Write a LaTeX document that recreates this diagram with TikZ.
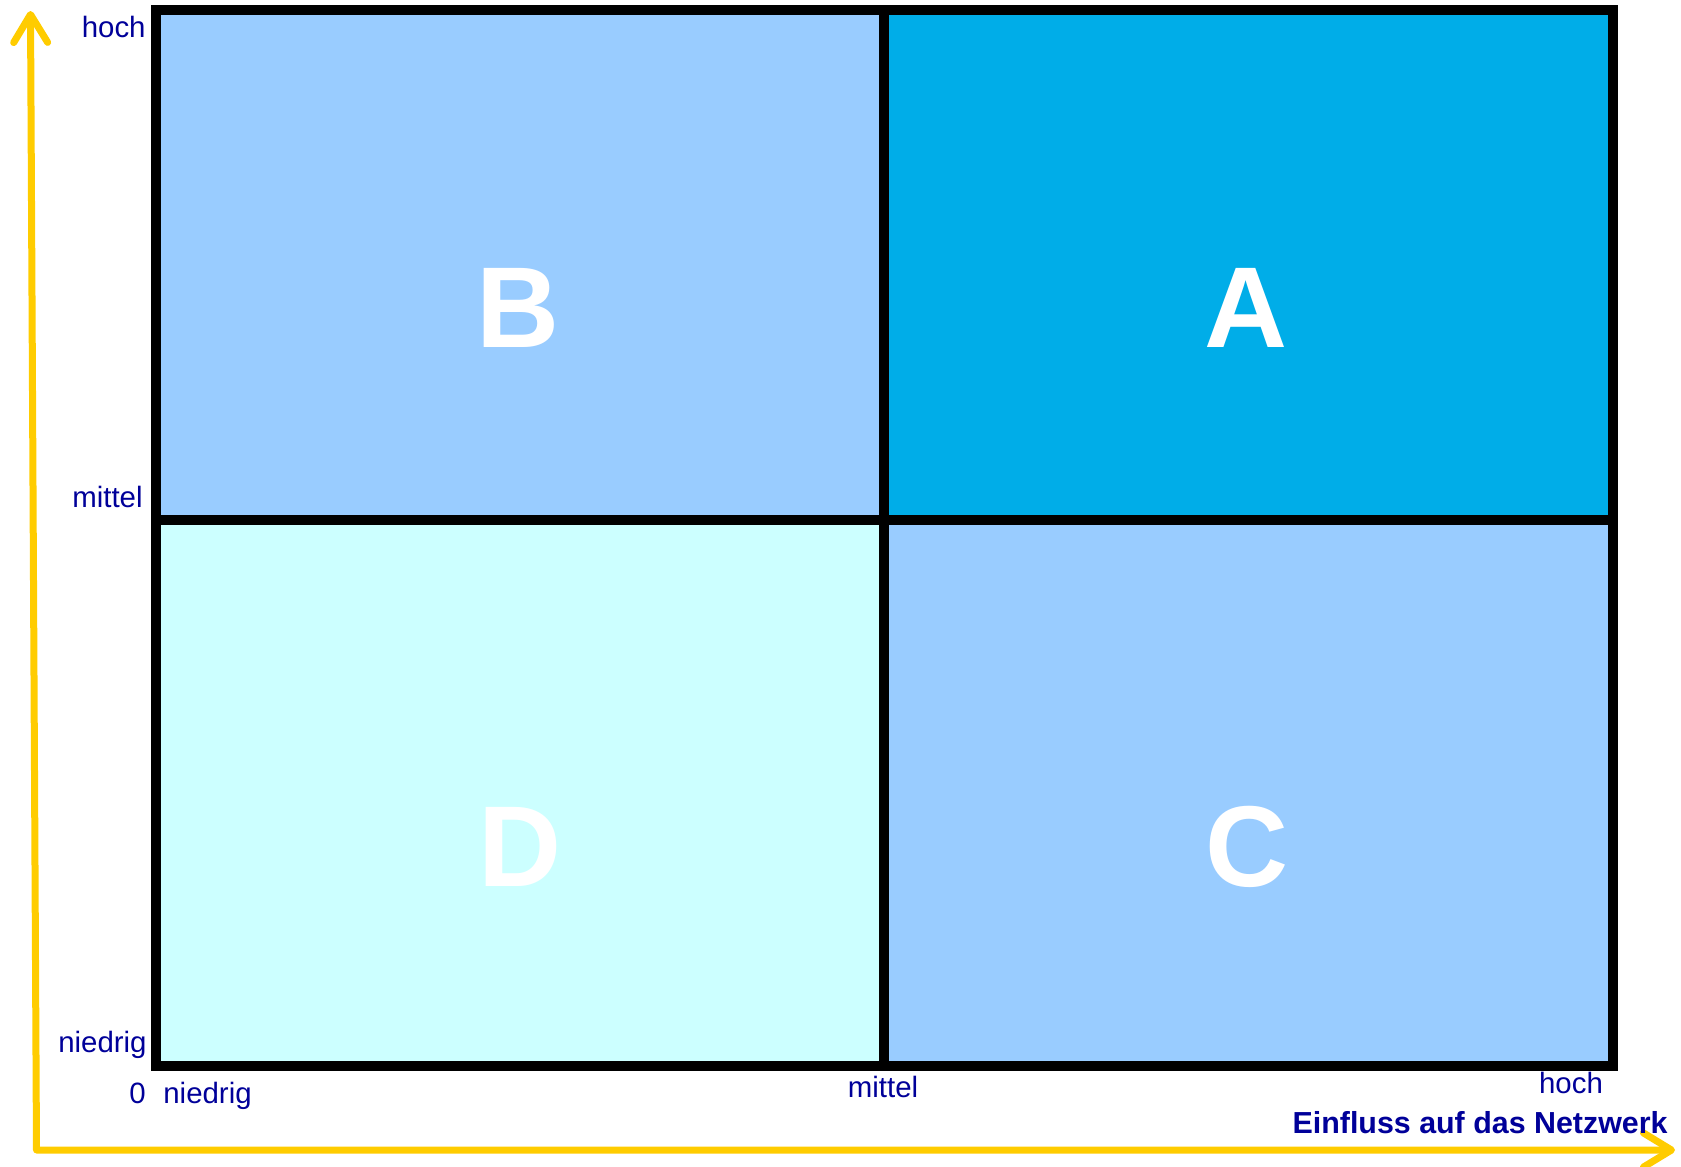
\documentclass[tikz,border=0pt]{standalone}
\usepackage{fontspec}
\setmainfont{Liberation Sans}
\usetikzlibrary{arrows.meta}
\definecolor{qlight}{HTML}{99CCFF}
\definecolor{qdark}{HTML}{00ADE8}
\definecolor{qpale}{HTML}{CCFFFF}
\definecolor{navy}{HTML}{000099}
\definecolor{axisyellow}{HTML}{FFCC00}
\begin{document}
\begin{tikzpicture}[x=0.5pt,y=-0.5pt,
  lbl/.style={inner sep=0pt,text=navy,font=\fontsize{14.7pt}{17pt}\selectfont},
  big/.style={inner sep=0pt,text=white,font=\fontsize{57.5pt}{60pt}\selectfont\bfseries},
  grid/.style={line width=5pt,draw=black,line cap=rect},
  axis/.style={line width=3.5pt,draw=axisyellow,line cap=round,line join=round,
    {Straight Barb[length=14pt,width=17pt,line cap=round,line join=round]}-{Straight Barb[length=14pt,width=17pt,line cap=round,line join=round]}}]
\useasboundingbox (0,0) rectangle (1681,1167);
% quadrants
\fill[qlight] (156,10) rectangle (884,519.5);
\fill[qdark] (884,10) rectangle (1613,519.5);
\fill[qpale] (156,519.5) rectangle (884,1066);
\fill[qlight] (884,519.5) rectangle (1613,1066);
% grid lines
\coordinate (tl) at (156,10);
\coordinate (tr) at (1613,10);
\coordinate (br) at (1613,1066);
\coordinate (bl) at (156,1066);
\coordinate (mt) at (884,10);
\coordinate (mb) at (884,1066);
\coordinate (ml) at (156,519.5);
\coordinate (mr) at (1613,519.5);
\draw[grid,line join=miter] (tl) -- (tr) -- (br) -- (bl) -- cycle;
\draw[grid] (mt) -- (mb);
\draw[grid] (ml) -- (mr);
% letters
\node[big] (B) at (518,308) {B};
\node[big] (A) at (1246,308) {A};
\node[big] (D) at (520,847) {D};
\node[big] (C) at (1247,847) {C};
% axes
\coordinate (ytip) at (30.5,11);
\coordinate (orig) at (36.5,1150);
\coordinate (xtip) at (1675,1150);
\draw[axis] (ytip) -- (orig) -- (xtip);
% y labels
\node[lbl,anchor=base east] (yh) at (146,37) {hoch};
\node[lbl,anchor=base east] (ym) at (143,507) {mittel};
\node[lbl,anchor=base east] (yn) at (147,1052) {niedrig};
% x labels
\node[lbl,anchor=base east] (zero) at (146,1103) {0};
\node[lbl,anchor=base west] (xn) at (163,1103) {niedrig};
\node[lbl,anchor=base] (xm) at (883,1097) {mittel};
\node[lbl,anchor=base] (xh) at (1571,1093) {hoch};
\node[lbl,anchor=base east,font=\fontsize{15.2pt}{17pt}\selectfont\bfseries] (xt) at (1668,1133) {Einfluss auf das Netzwerk};
\end{tikzpicture}
\end{document}
